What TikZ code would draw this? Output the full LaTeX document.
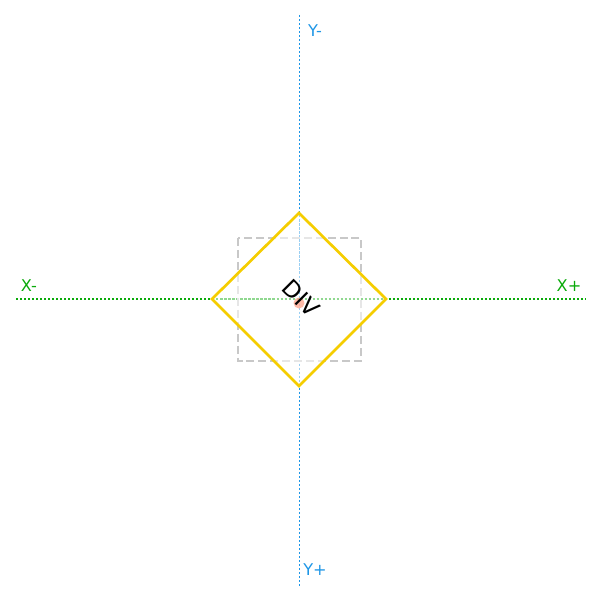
\documentclass[tikz,border=0pt]{standalone}
\usepackage{fontspec}
\setmainfont{DejaVu Sans}
\usetikzlibrary{positioning}
\definecolor{axisgreen}{RGB}{10,170,10}
\definecolor{axisblue}{RGB}{30,150,230}
\definecolor{boxgold}{RGB}{245,205,0}
\definecolor{boxgrey}{RGB}{200,200,200}

\begin{document}
\begin{tikzpicture}[x=0.025cm,y=-0.025cm,
    axislabel/.style={inner sep=0pt,font=\fontsize{11.5}{13}\selectfont},
    axisline/.style={line width=0.75pt,dash pattern=on 1.5pt off 1.35pt}]
       \useasboundingbox (0,0) rectangle (600,600);
       % axes
       \coordinate (xl) at (16,299);
       \coordinate (xr) at (586,299);
       \coordinate (yt) at (299,15);
       \coordinate (yb) at (299,586);
       \draw[axisline,axisgreen] (xl) -- (xr);
       \draw[axisline,axisblue,line width=0.4pt] (yt) -- (yb);
       \node[axislabel,text=axisgreen] (xminus) at (29,286) {X-};
       \node[axislabel,text=axisgreen] (xplus) at (569,286) {X+};
       \node[axislabel,text=axisblue] (yminus) at (315,31) {Y-};
       \node[axislabel,text=axisblue] (yplus) at (315,570) {Y+};

       % dashed box
       \coordinate (bl) at (238,238);
       \coordinate (br) at (361,361);
       \draw[boxgrey,line width=1.7pt,dash pattern=on 5.7pt off 2.8pt] (bl) rectangle (br);

       % rotated box
       \coordinate (dt) at (299,213);
       \coordinate (dr) at (386,299);
       \coordinate (db) at (299,386);
       \coordinate (dl) at (212,299);
       \fill[white,opacity=0.55] (dt) -- (dr) -- (db) -- (dl) -- cycle;
       \draw[boxgold,line width=1.9pt,line join=miter] (dt) -- (dr) -- (db) -- (dl) -- cycle;

       % label
       \fill[red!60!orange!45,opacity=0.75] (299,303) circle (5.5);
       \node[rotate=-45,inner sep=0pt,font=\fontsize{16.5}{18}\selectfont] (div) at (301,298) {DIV};
      \end{tikzpicture}
\end{document}
